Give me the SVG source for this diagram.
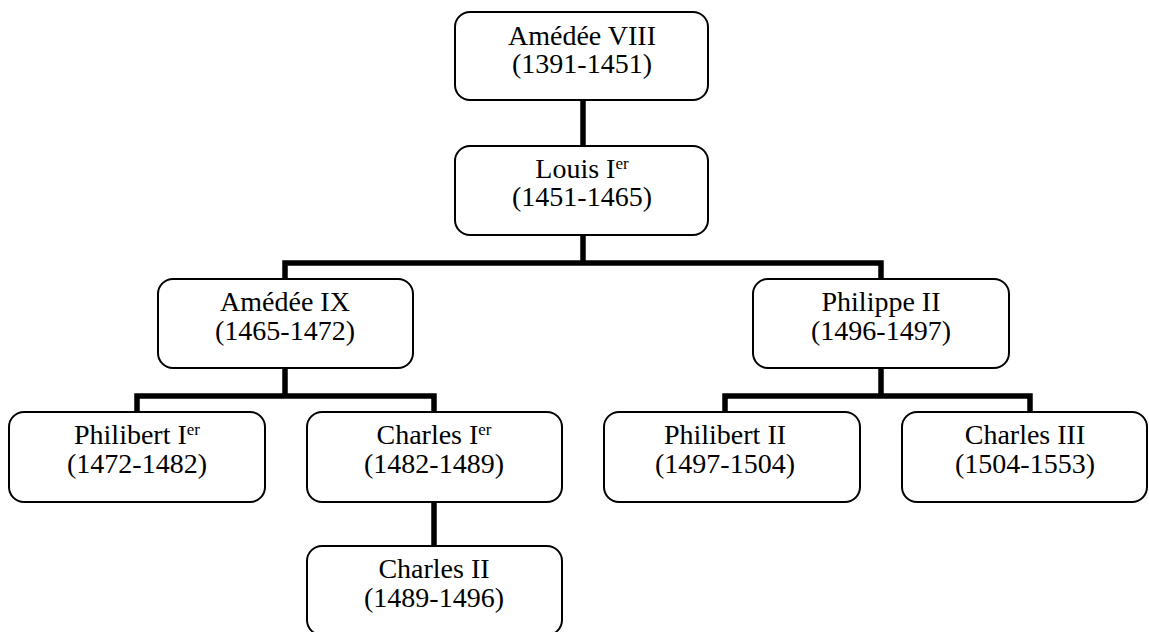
<svg xmlns="http://www.w3.org/2000/svg" width="1149" height="632" viewBox="0 0 1149 632">
<style>
.box{fill:#fff;stroke:#000;stroke-width:2}
.t{font-family:"Liberation Serif","DejaVu Serif",serif;font-size:28px;fill:#000;text-anchor:middle}
.sup{font-size:17px}
.c{fill:none;stroke:#000;stroke-width:5.5;stroke-linejoin:miter;stroke-linecap:square}
</style>
<rect width="1149" height="632" fill="#fff"/>
<g id="connectors">
<path class="c" d="M583 101V145"/>
<path class="c" d="M583 236V263M285 263H881M285 263V278M881 263V278"/>
<path class="c" d="M285 369V396M137 396H434M137 396V411M434 396V411"/>
<path class="c" d="M881 369V396M725 396H1030M725 396V411M1030 396V411"/>
<path class="c" d="M434 504V545"/>
</g>
<g id="amedee8"><rect class="box" x="455" y="12" width="253" height="88" rx="15"/>
<text class="t" x="582" y="45">Amédée VIII</text><text class="t" x="582" y="73">(1391-1451)</text></g>
<g id="louis1"><rect class="box" x="455" y="146" width="253" height="89" rx="15"/>
<text class="t" x="582" y="178">Louis I<tspan class="sup" dy="-9">er</tspan></text><text class="t" x="582" y="206">(1451-1465)</text></g>
<g id="amedee9"><rect class="box" x="158" y="279" width="255" height="89" rx="15"/>
<text class="t" x="285" y="311">Amédée IX</text><text class="t" x="285" y="340">(1465-1472)</text></g>
<g id="philippe2"><rect class="box" x="753" y="279" width="256" height="89" rx="15"/>
<text class="t" x="881" y="311">Philippe II</text><text class="t" x="881" y="340">(1496-1497)</text></g>
<g id="philibert1"><rect class="box" x="9" y="412" width="256" height="90" rx="15"/>
<text class="t" x="137" y="444">Philibert I<tspan class="sup" dy="-9">er</tspan></text><text class="t" x="137" y="473">(1472-1482)</text></g>
<g id="charles1"><rect class="box" x="307" y="412" width="255" height="90" rx="15"/>
<text class="t" x="434" y="444">Charles I<tspan class="sup" dy="-9">er</tspan></text><text class="t" x="434" y="473">(1482-1489)</text></g>
<g id="charles2"><rect class="box" x="307" y="546" width="255" height="89" rx="15"/>
<text class="t" x="434" y="578">Charles II</text><text class="t" x="434" y="607">(1489-1496)</text></g>
<g id="philibert2"><rect class="box" x="604" y="412" width="256" height="90" rx="15"/>
<text class="t" x="725" y="444">Philibert II</text><text class="t" x="725" y="473">(1497-1504)</text></g>
<g id="charles3"><rect class="box" x="902" y="412" width="245" height="90" rx="15"/>
<text class="t" x="1025" y="444">Charles III</text><text class="t" x="1025" y="473">(1504-1553)</text></g>
</svg>
